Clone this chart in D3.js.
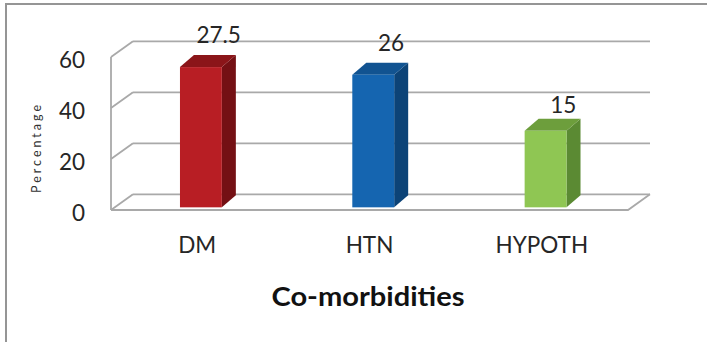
<!DOCTYPE html>
<html>
<head>
<meta charset="utf-8">
<script src="https://cdn.jsdelivr.net/npm/d3@7/dist/d3.min.js"></script>
<style>
  html, body { margin: 0; padding: 0; background: #fff; }
  svg { display: block; font-family: Lato, "Open Sans", sans-serif; }
</style>
</head>
<body>
<svg id="chart" width="707" height="342"></svg>
<script>
// Co-morbidities: bar heights are percentages, labels above bars are the counts
const categories = ["DM", "HTN", "HYPOTH"];
const percentages = [55, 52, 30];
const counts = ["27.5", "26", "15"];
const yTicks = [0, 20, 40, 60];
const barFront = ["#b81e24", "#1565b0", "#8fc653"];
const barTop = ["#8b1519", "#115391", "#6d9e3c"];
const barSide = ["#741014", "#0c4377", "#5b8a33"];

const svg = d3.select("#chart");
const W = 707, H = 342;

// 3D box: front plane and back wall offset
const depthDX = 22, depthDY = -15.7;
const x = d3.scaleBand().domain(categories).range([111, 628]).paddingInner(0).paddingOuter(0);
const yFront = d3.scaleLinear().domain([0, 60]).range([210, 57]);
const yLabel = d3.scaleLinear().domain([0, 60]).range([198, 28.6]);

const gridColor = "#a9a9a9";

// outer frame
svg.append("rect")
  .attr("x", 6).attr("y", 4)
  .attr("width", W + 10).attr("height", H + 10)
  .attr("fill", "none").attr("stroke", "#959595").attr("stroke-width", 2);

const grid = svg.append("g").attr("fill", "none").attr("stroke", gridColor).attr("stroke-width", 1.8);
const x0 = x.range()[0], x1 = x.range()[1];

// back wall gridlines
grid.selectAll("line.back").data(yTicks).join("line")
  .attr("class", "back")
  .attr("x1", x0 + depthDX).attr("x2", x1 + depthDX)
  .attr("y1", d => yFront(d) + depthDY).attr("y2", d => yFront(d) + depthDY);

// side wall gridlines
grid.selectAll("line.side").data(yTicks).join("line")
  .attr("class", "side")
  .attr("x1", x0).attr("x2", x0 + depthDX)
  .attr("y1", d => yFront(d)).attr("y2", d => yFront(d) + depthDY);

// side wall front edge
grid.append("line")
  .attr("x1", x0).attr("x2", x0)
  .attr("y1", yFront(0)).attr("y2", yFront(60));

// floor front and right edges
grid.append("path")
  .attr("d", `M${x0},${yFront(0)}L${x1},${yFront(0)}L${x1 + depthDX},${yFront(0) + depthDY}`);

// bars
const barDepth = 0.17;                   // bar front plane position within the box
const bw = x.bandwidth() * 0.243;
const bdx = 14, bdy = -12;               // bar thickness
const bars = svg.append("g");
categories.forEach((c, i) => {
  const cx = x(c) + x.bandwidth() / 2 + barDepth * depthDX;
  const xl = cx - bw / 2, xr = cx + bw / 2;
  const yt = yFront(percentages[i]) + barDepth * depthDY;
  const yb = yFront(0) + barDepth * depthDY;
  const g = bars.append("g");
  g.append("path")
    .attr("d", `M${xr},${yt}L${xr + bdx},${yt + bdy}L${xr + bdx},${yb + bdy}L${xr},${yb}Z`)
    .attr("fill", barSide[i]);
  g.append("path")
    .attr("d", `M${xl},${yt}L${xr},${yt}L${xr + bdx},${yt + bdy}L${xl + bdx},${yt + bdy}Z`)
    .attr("fill", barTop[i]);
  g.append("rect")
    .attr("x", xl).attr("y", yt).attr("width", bw).attr("height", yb - yt)
    .attr("fill", barFront[i]);
});

// value labels above bars
svg.append("g").selectAll("text").data(categories).join("text")
  .attr("x", d => x(d) + x.bandwidth() / 2 + 21.5)
  .attr("y", (d, i) => yLabel(percentages[i]))
  .attr("text-anchor", "middle")
  .attr("font-size", 22.5)
  .attr("fill", "#262626")
  .text((d, i) => counts[i]);

// y tick labels
svg.append("g").selectAll("text").data(yTicks).join("text")
  .attr("x", 85)
  .attr("y", d => yFront(d) + 10.5)
  .attr("text-anchor", "end")
  .attr("font-size", 22.5)
  .attr("fill", "#262626")
  .text(d => d);

// category labels
svg.append("g").selectAll("text").data(categories).join("text")
  .attr("x", d => x(d) + x.bandwidth() / 2)
  .attr("y", 253.3)
  .attr("text-anchor", "middle")
  .attr("font-size", 22.5)
  .attr("fill", "#262626")
  .text(d => d);

// axis titles
svg.append("text")
  .attr("transform", "translate(40.5,149) rotate(-90)")
  .attr("text-anchor", "middle")
  .attr("font-size", 12.5)
  .attr("fill", "#333")
  .attr("textLength", 88).attr("lengthAdjust", "spacing")
  .text("Percentage");

svg.append("text")
  .attr("x", 368).attr("y", 305.7)
  .attr("text-anchor", "middle")
  .attr("font-size", 27.5)
  .attr("font-weight", "bold")
  .attr("fill", "#111")
  .attr("textLength", 193).attr("lengthAdjust", "spacingAndGlyphs")
  .text("Co-morbidities");
</script>
</body>
</html>
